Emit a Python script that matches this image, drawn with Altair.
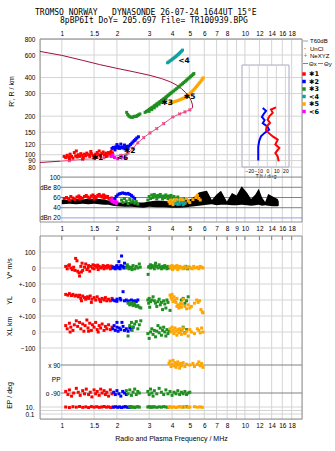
import altair as alt
import pandas as pd

# ---------------- text ----------------
TITLE_1 = "TROMSO NORWAY \u00a0\u00a0DYNASONDE 26-07-24 1644UT 15°E"
TITLE_2 = "8pBP6It DoY= 205.697 File= TR100939.BPG"

# ---------------- axes values ----------------
FREQ_TICKS = [1, 1.5, 2, 3, 4, 5, 6, 7, 8, 10, 12, 14, 16, 18]
FREQ_TICKS_MID = [1, 1.5, 2, 3, 4, 5, 6, 7, 8, 9, 10, 12, 14, 16, 18]
FREQ_GRID = [1, 1.5, 2, 3, 4, 5, 6, 7, 8, 9, 10, 12, 14, 16, 18]
R_TICKS = [80, 90, 100, 120, 150, 200, 300, 400, 600, 800]
DB_TICKS = [100, 80, 60, 40, 20]
TILT_TICKS = [-20, -10, 0, 10, 20]
TILT_R_GRID = [90, 100, 120, 150, 200, 300, 400]

# ---------------- top panel: virtual height traces (f MHz, R km) ----------------
TR1 = [(1.03,97),(1.05,95),(1.07,99),(1.09,96),(1.11,101),(1.13,97),(1.15,94),(1.17,104),(1.19,98),
       (1.21,96),(1.23,100),(1.25,97),(1.27,102),(1.29,99),(1.31,95),(1.33,101),(1.35,98),(1.37,103),
       (1.40,100),(1.42,97),(1.45,102),(1.48,99),(1.50,96),(1.53,101),(1.56,104),(1.59,100),(1.62,98),
       (1.65,102),(1.68,105),(1.71,100),(1.74,103),(1.77,99),(1.80,104),(1.83,101),(1.86,106),(1.89,103),
       (1.20,107),(1.44,106),(1.60,107),(1.10,93),(1.30,93),(1.55,96),(1.75,97)]
TR2 = [(1.88,112),(1.91,114),(1.94,113),(1.97,115),(2.00,113),(2.03,116),(2.06,112),(2.09,114),
       (2.12,113),(2.15,115),(2.18,113),(2.21,111),(2.24,114),(2.27,116),(2.30,114),(2.33,117),
       (2.37,120),(2.41,123),(2.45,126),(2.49,129),(2.53,132),(2.57,135),(2.62,138),(2.00,120),
       (2.10,121),(2.20,119),(1.95,109)]
TR6 = [(1.86,97),(1.90,100),(1.94,95),(2.02,93),(2.12,96),(2.22,94)]
TR3_LOW = [(2.26,214),(2.29,206),(2.32,201),(2.35,198),(2.39,196),(2.43,196),(2.47,198),(2.51,200),
           (2.55,199),(2.59,202),(2.63,205),(2.67,208)]
TR3 = [(2.85,214),(2.90,218),(2.95,221),(3.00,226),(3.05,229),(3.10,233),(3.15,236),(3.20,241),
       (3.25,244),(3.30,249),(3.35,252),(3.40,257),(3.45,260),(3.50,265),(3.55,268),(3.60,273),
       (3.65,276),(3.70,281),(3.75,285),(3.80,290),(3.85,294),(3.90,299),(3.95,303),(4.00,308),
       (4.08,314),(4.16,321),(4.24,328),(4.32,336),(4.40,343),(4.48,351),(4.56,358),(4.64,366),
       (4.72,374),(4.80,382),(4.88,390),(4.96,398),(5.04,406),(5.12,414),(5.20,422),(5.26,430),
       (3.00,218),(3.10,225),(3.20,232),(3.30,240),(3.40,248),(3.50,256),(3.60,264),(3.70,272)]
TR5 = [(3.88,250),(3.94,253),(4.00,256),(4.08,258),(4.16,260),(4.24,263),(4.32,265),(4.40,268),
       (4.48,271),(4.56,274),(4.64,277),(4.72,281),(4.80,285),(4.88,290),(4.96,296),(5.04,302),
       (5.12,309),(5.20,316),(5.28,324),(5.36,332),(5.44,340),(5.52,349),(5.60,358),(5.68,367),
       (5.76,377),(5.84,387),(5.92,398)]
TR4 = [(3.78,522),(3.84,530),(3.90,540),(3.96,548),(4.02,558),(4.08,566),(4.14,575),(4.20,585),
       (4.26,596),(4.32,606),(4.38,618),(4.44,630),(4.50,642),(4.56,655)]
TRACE_LABELS = [("✱1",1.53,95),("✱2",2.30,107),("<6",2.10,95),("✱3",3.68,254),("<4",4.55,540),("✱5",4.88,280)]

# model profile curves (f MHz, R km)
PROF_TOP = [(0.76,640),(1.0,596),(1.3,545),(1.61,505),(2.0,472),(2.5,442),(3.03,416),(3.5,393),
            (3.89,372),(4.2,352),(4.5,328),(4.75,305),(4.95,284),(5.08,265),(5.16,248),(5.18,236),(5.13,229)]
PROF_BOTTOM = [(0.76,87),(0.98,89)]
NEXYZ = [(0.98,89),(1.1,90),(1.3,92),(1.5,93),(1.7,95),(1.9,97),(2.1,99),(2.3,103),(2.45,112),
         (2.6,124),(2.8,136),(3.03,148),(3.3,160),(3.6,175),(4.04,197),(4.4,208),(4.7,216),(5.0,224),(5.13,229)]

# tilt inset (deg, R km)
TILT_X = [(9.6,234),(4.1,225),(6.0,212),(2.2,199),(0.4,188),(3.0,177),(-0.7,166),(-1.4,156),(1.5,148),
          (6.0,139),(11.5,131),(8.9,120),(13.3,113),(8.9,103),(11.5,97),(12.6,89)]
TILT_Y = [(-5.1,232),(-1.4,220),(-4,208),(-6,197),(-3,186),(-5,176),(0,166),(2,157),(-3,148),
          (-7,139),(-9,128),(-10,115),(-10,103),(-10,90)]

# ---------------- amplitude panel (f MHz, dB) ----------------
DB1 = [(1.03,58),(1.06,60),(1.09,57),(1.12,62),(1.15,59),(1.18,56),(1.21,61),(1.24,63),(1.27,60),(1.30,58),
       (1.33,62),(1.36,64),(1.39,61),(1.42,59),(1.45,63),(1.48,65),(1.51,62),(1.54,60),(1.57,64),(1.60,66),
       (1.63,63),(1.66,61),(1.69,65),(1.72,63),(1.75,60),(1.78,62),(1.81,58),(1.84,56),(1.87,59),(1.10,55),
       (1.25,57),(1.50,57),(1.70,58)]
DB6 = [(1.85,55),(1.88,52),(1.90,57),(1.93,50),(1.96,53),(1.98,48),(2.00,51)]
DB2 = [(1.95,58),(1.98,62),(2.02,65),(2.06,67),(2.10,68),(2.15,69),(2.20,68),(2.25,67),(2.30,68),
       (2.35,66),(2.40,64),(2.45,61),(2.50,58)]
DB3 = [(2.12,55),(2.16,50),(2.20,58),(2.25,53),(2.30,48),(2.35,56),(2.40,51),(2.45,54),(2.50,49),(2.55,52),
       (2.60,47),(2.95,55),(3.00,62),(3.05,58),(3.10,65),(3.15,60),(3.20,66),(3.25,63),(3.30,58),(3.35,64),
       (3.40,61),(3.45,66),(3.50,62),(3.55,57),(3.60,63),(3.65,60),(3.70,65),(3.75,62),(3.80,58),(3.85,63),
       (3.90,60),(3.95,64),(4.00,59),(4.10,62),(4.20,58),(4.30,61),(4.40,56),(4.60,55),(4.70,58)]
DB5 = [(3.85,52),(3.90,48),(3.95,55),(4.00,50),(4.05,46),(4.10,53),(4.15,49),(4.20,56),(4.25,51),(4.30,47),
       (4.35,54),(4.40,50),(4.45,57),(4.50,52),(4.60,55),(4.70,49),(4.80,58),(4.90,53),(5.00,50),(5.20,56),
       (5.40,60),(5.50,64),(5.60,58),(5.70,55)]
DB4 = [(4.20,48),(4.30,51),(4.40,47),(4.50,50),(4.60,46),(4.70,49)]
DB_ALL = [(1.0,47,55),(1.1,48,56),(1.2,47,57),(1.3,48,56),(1.4,47,58),(1.5,48,57),(1.6,47,57),(1.7,46,56),
          (1.8,46,54),(1.9,44,52),(2.0,43,50),(2.2,42,50),(2.4,42,52),(2.6,41,50),(2.8,40,50),(3.0,42,52),
          (3.3,41,54),(3.6,41,53),(4.0,40,52),(4.4,40,52),(4.8,41,55),(5.0,42,56),(5.33,43,62),(5.6,44,70),
          (5.9,45,72),(6.2,46,73),(6.6,47,55),(7.0,45,66),(7.4,46,73),(7.97,46,52),(8.5,45,69),(9.0,45,64),
          (9.6,46,82),(10.3,45,69),(10.8,44,57),(11.4,45,66),(11.9,46,77),(12.4,44,60),(12.9,45,51),
          (13.4,44,67),(14.2,43,62),(15.1,43,57),(15.3,44,52)]

# ---------------- lower panel (f MHz, value) ----------------
VS1 = [(1.05,10),(1.07,-5),(1.09,15),(1.12,0),(1.14,-10),(1.16,5),(1.19,60),(1.21,45),(1.22,-20),(1.24,-30),
       (1.25,-50),(1.27,10),(1.29,30),(1.30,-15),(1.33,5),(1.35,25),(1.37,-10),(1.39,0),(1.42,-20),(1.44,10),
       (1.47,0),(1.50,-5),(1.52,15),(1.55,5),(1.58,-10),(1.60,10),(1.63,0),(1.66,5),(1.70,-5),(1.73,10),
       (1.76,0),(1.80,5),(1.84,-5),(1.88,10),(1.10,20),(1.18,-15),(1.28,-25),(1.40,15),(1.48,20),(1.57,18),
       (1.68,15),(1.78,15),(1.85,12)]
VS2 = [(1.90,0),(1.93,5),(1.96,-5),(1.99,10),(2.02,0),(2.05,40),(2.07,5),(2.10,15),(2.12,75),(2.15,10),
       (2.18,0),(2.20,30),(2.22,5),(2.00,15),(2.08,-5)]
VS3 = [(2.25,0),(2.30,10),(2.33,-5),(2.37,5),(2.40,0),(2.45,15),(2.50,-5),(2.55,10),(2.60,0),(2.65,25),
       (2.68,5),(2.28,20),(2.42,-10),(2.96,-40),(2.98,5),(3.00,10),(3.05,0),(3.10,15),(3.15,5),(3.20,-5),
       (3.25,30),(3.30,10),(3.35,0),(3.40,20),(3.45,5),(3.50,-5),(3.55,10),(3.60,0),(3.65,15),(3.70,5),
       (3.75,-5),(3.80,10),(3.85,0),(3.05,20),(3.22,15),(4.65,0),(4.75,10),(4.85,-5),(4.95,5)]
VS5 = [(3.90,10),(3.95,0),(4.00,15),(4.05,-5),(4.10,5),(4.15,10),(4.20,0),(4.25,15),(4.30,-10),(4.35,5),
       (4.40,10),(4.45,0),(4.50,5),(4.60,-5),(4.70,10),(4.80,0),(4.90,5),(5.05,0),(5.15,-5),(5.25,10),
       (5.35,0),(5.50,5),(5.60,-5),(5.70,10),(5.80,5),(5.90,0),(4.02,-10)]
YL1 = [(1.05,35),(1.08,30),(1.10,40),(1.13,28),(1.15,35),(1.18,25),(1.20,30),(1.23,20),(1.25,30),(1.27,10),
       (1.30,25),(1.33,15),(1.35,5),(1.38,20),(1.40,10),(1.43,25),(1.46,5),(1.50,15),(1.53,0),(1.56,20),
       (1.60,5),(1.63,-10),(1.66,10),(1.70,0),(1.73,15),(1.76,-5),(1.80,5),(1.84,-5),(1.88,10),(1.28,-5),
       (1.45,-15),(1.62,-5)]
YL2 = [(1.90,0),(1.95,-5),(2.00,5),(2.16,52),(2.10,0),(2.20,-5),(2.25,0),(2.30,-10),(2.35,-5),(2.40,0),
       (2.45,-10),(2.50,-5),(2.55,-10),(2.60,0),(2.00,-8),(2.08,10)]
YL3 = [(2.30,-20),(2.35,-30),(2.40,-25),(2.45,-35),(2.50,-30),(2.55,-40),(2.60,-35),(2.65,-45),(2.70,-50),
       (2.38,-15),(2.48,-20),(2.95,0),(2.98,-20),(3.00,10),(3.05,-10),(3.10,0),(3.15,20),(3.20,-5),(3.25,-20),
       (3.30,-40),(3.35,-10),(3.40,5),(3.45,-30),(3.50,-15),(3.55,-60),(3.60,-5),(3.65,-25),(3.70,-50),
       (3.75,0),(3.80,-15),(3.90,-65),(4.50,0),(4.60,10),(4.70,-20),(4.80,-5),(4.90,20),(3.02,-45)]
YL5 = [(3.90,30),(3.95,15),(4.00,5),(4.05,-10),(4.10,20),(4.15,0),(4.20,-15),(4.25,10),(4.30,-30),(4.35,-50),
       (4.40,-35),(4.45,-20),(4.50,-45),(4.55,-25),(4.60,5),(4.70,-40),(4.80,-55),(4.90,-30),(5.00,-50),
       (5.10,-40),(5.30,-20),(5.45,0),(5.55,-15),(5.65,-5),(5.75,-60),(5.85,-75),(5.90,-80),(4.00,35),(4.25,-40)]
XL1 = [(1.05,40),(1.07,20),(1.10,55),(1.12,30),(1.15,10),(1.17,45),(1.20,70),(1.22,35),(1.25,60),(1.27,20),
       (1.30,50),(1.32,5),(1.34,40),(1.37,75),(1.39,25),(1.42,55),(1.45,10),(1.47,45),(1.50,30),(1.53,60),
       (1.56,15),(1.60,40),(1.63,25),(1.66,50),(1.70,10),(1.73,35),(1.76,20),(1.80,45),(1.84,15),(1.88,30),
       (1.11,0),(1.40,5),(1.58,0)]
XL2 = [(1.90,20),(1.93,40),(1.96,10),(2.00,30),(2.03,5),(2.06,25),(2.10,15),(2.13,60),(2.16,35),(2.20,10),
       (2.25,20),(2.30,5),(2.35,25),(2.40,15),(2.45,30),(2.00,60)]
XL3 = [(2.30,-25),(2.35,40),(2.40,60),(2.45,30),(2.50,50),(2.55,65),(2.60,20),(2.65,45),(2.70,70),(2.42,10),
       (2.95,-10),(3.00,-40),(3.05,0),(3.10,20),(3.15,-15),(3.20,10),(3.25,-30),(3.30,5),(3.35,40),(3.40,-5),
       (3.45,25),(3.50,-20),(3.55,10),(3.60,30),(3.65,0),(3.70,-25),(3.75,15),(3.80,-10),(3.85,5),(4.50,10),
       (4.60,30),(4.70,-5),(4.80,15)]
XL5 = [(3.90,20),(3.95,0),(4.00,30),(4.05,10),(4.10,-10),(4.15,25),(4.20,5),(4.25,-20),(4.30,15),(4.35,-5),
       (4.40,20),(4.45,0),(4.50,-15),(4.55,10),(4.60,25),(4.70,-10),(4.80,5),(4.90,-25),(5.00,15),(5.10,0),
       (5.30,-10),(5.50,20),(5.60,10),(5.70,-5),(5.80,25),(5.90,0)]
PP5 = [(3.85,100),(3.90,115),(3.95,80),(4.00,95),(4.05,120),(4.10,85),(4.15,105),(4.20,75),(4.25,95),
       (4.30,110),(4.35,90),(4.40,70),(4.45,100),(4.50,85),(4.60,105),(4.70,80),(4.80,95),(5.00,90),
       (5.20,100),(5.30,80),(5.50,95),(5.60,110),(5.70,85),(5.80,100),(5.90,75)]
PP1 = [(1.05,-80),(1.08,-100),(1.10,-70),(1.13,-110),(1.16,-90),(1.20,-60),(1.23,-85),(1.26,-105),(1.30,-75),
       (1.33,-95),(1.36,-65),(1.40,-100),(1.43,-85),(1.46,-115),(1.50,-70),(1.53,-95),(1.56,-80),(1.60,-105),
       (1.63,-65),(1.66,-90),(1.70,-75),(1.73,-100),(1.76,-85),(1.80,-110),(1.84,-70),(1.88,-95)]
PP2 = [(1.92,-85),(1.96,-100),(2.00,-75),(2.05,-95),(2.10,-110),(2.15,-80),(2.20,-90),(2.25,-100)]
PP3 = [(2.25,-75),(2.30,-95),(2.35,-70),(2.40,-105),(2.45,-85),(2.50,-65),(2.55,-100),(2.60,-80),(2.65,-90),
       (2.95,-80),(3.00,-100),(3.05,-65),(3.10,-90),(3.15,-110),(3.20,-75),(3.30,-95),(3.40,-60),(3.50,-85),
       (3.60,-100),(3.70,-70),(3.80,-95),(3.90,-80),(4.00,-105),(4.10,-85),(4.20,-95),(4.30,-75),(4.40,-100),
       (4.50,-85),(4.60,-95),(4.70,-80),(4.80,-100),(4.90,-90),(5.00,-85)]
EP1 = [(1.05,10),(1.10,7),(1.15,12),(1.20,9),(1.25,14),(1.30,8),(1.35,11),(1.40,7),(1.45,13),(1.50,9),
       (1.55,12),(1.60,8),(1.65,10),(1.70,14),(1.75,9),(1.80,11),(1.85,7),(1.90,10)]
EP2 = [(1.92,9),(1.97,12),(2.02,8),(2.07,11),(2.12,7),(2.17,10),(2.22,13),(2.27,9),(2.32,8),(2.37,11)]
EP3 = [(2.35,12),(2.40,8),(2.45,11),(2.50,7),(2.55,10),(2.60,13),(2.65,9),(2.95,10),(3.00,13),(3.05,8),
       (3.10,11),(3.15,9),(3.20,12),(3.30,8),(3.40,11),(3.50,9),(3.60,13),(3.70,10),(3.80,8),(4.60,10),(4.80,12)]
EP5 = [(3.85,9),(3.90,12),(4.00,8),(4.10,11),(4.20,7),(4.30,10),(4.40,13),(4.50,9),(4.70,11),(4.90,8),
       (5.00,10),(5.30,12),(5.50,9),(5.70,11),(5.85,8)]

# ---------------- styling ----------------
RED, BLUE, GREEN, CYAN, ORANGE, MAGENTA = "#ff0000", "#0000ff", "#1f8f1f", "#10a0a0", "#ffa500", "#ff00ff"
DARKRED, PINK = "#a01040", "#e8508a"
GRID, FRAME, DARKGRID = "#d4d4d4", "#909090", "#808080"
FONT = "Liberation Sans"
FS = 6.5

FSCALE = alt.Scale(type="log", domain=[0.76, 20.5], nice=False)
S_R = alt.Scale(type="log", domain=[72, 800], range=[134, 0], nice=False)
S_DB = alt.Scale(domain=[12, 108], range=[183, 134], nice=False, zero=False)
S_TOPBOX = alt.Scale(domain=[0, 1], range=[183, 0], nice=False, zero=False)
S_LOWBOX = alt.Scale(domain=[0, 1], range=[380, 197], nice=False, zero=False)
S_VS = alt.Scale(domain=[-100, 100], range=[245, 213], nice=False, zero=False)
S_YL = alt.Scale(domain=[-100, 100], range=[277, 245], nice=False, zero=False)
S_XL = alt.Scale(domain=[-100, 100], range=[309, 277], nice=False, zero=False)
S_PP = alt.Scale(domain=[-90, 90], range=[354, 326], nice=False, zero=False)
S_EP = alt.Scale(type="log", domain=[0.1, 10], range=[375, 368], nice=False)
S_TILT = alt.Scale(domain=[-28, 24], range=[202, 249], nice=False, zero=False)


def df(rows, cols=("f", "v")):
    return pd.DataFrame(rows, columns=list(cols))


def fx(axis=None):
    return alt.X("f:Q", scale=FSCALE, axis=axis)


def AX(**kw):
    base = dict(labelFont=FONT, labelFontSize=FS, labelColor="black", domain=False, ticks=False,
                tickSize=0, grid=False, labelOverlap=False, labelFlush=False, title=None,
                titleFont=FONT, titleFontSize=7, titleFontWeight="normal", titleColor="black")
    base.update(kw)
    return alt.Axis(**base)


def dots(rows, scale, color, size=9):
    return alt.Chart(df(rows)).mark_square(size=size, color=color, opacity=1).encode(
        x=fx(), y=alt.Y("v:Q", scale=scale, axis=None))


def hlines(values, scale, color, axis=None, x0=0.76, width=1):
    return alt.Chart(pd.DataFrame({"v": values})).mark_rule(color=color, strokeWidth=width).encode(
        x=alt.XDatum(x0, scale=FSCALE, axis=None), x2=alt.X2Datum(20.5),
        y=alt.Y("v:Q", scale=scale, axis=axis))


def vgrid(boxscale, axis=None):
    return alt.Chart(pd.DataFrame({"f": FREQ_GRID})).mark_rule(color=GRID, strokeWidth=1).encode(
        x=fx(axis), y=alt.YDatum(0, scale=boxscale, axis=None), y2=alt.Y2Datum(1))


layers = []

# ---- grids & frames ----
layers.append(vgrid(S_TOPBOX, AX(orient="top", values=FREQ_TICKS, format="~g", labelPadding=3)))
layers.append(vgrid(S_LOWBOX, AX(orient="bottom", values=FREQ_TICKS, format="~g", labelPadding=3,
                                 title="Radio and Plasma Frequency / MHz", titlePadding=6)))
layers.append(hlines(R_TICKS, S_R, GRID, AX(orient="left", values=R_TICKS, format="d", labelPadding=5,
                                            title="R', R / km", titleX=-26, titleY=52, titleAngle=270)))
layers.append(hlines([100, 80, 60, 40], S_DB, DARKGRID, AX(orient="left", values=DB_TICKS, offset=-22, labelPadding=2,
                     labelExpr="datum.value == 80 ? 'dBe 80' : datum.value == 20 ? 'dBn 20' : datum.label"), x0=0.98))
layers.append(hlines([20], S_DB, "#9a9ae6", x0=0.98))
layers.append(hlines([100, 0], S_VS, GRID, AX(orient="left", values=[100, 0], labelPadding=5,
                                             title="V* m/s", titleX=-28, titleY=229, titleAngle=270)))
layers.append(hlines([100, 0], S_YL, GRID, AX(orient="left", values=[100, 0], labelPadding=5,
                     labelExpr="datum.value == 100 ? '+-100' : datum.label",
                     title="YL", titleX=-28, titleY=261, titleAngle=270)))
layers.append(hlines([100, 0, -100], S_XL, GRID, AX(orient="left", values=[100, 0, -100], labelPadding=5,
                     labelExpr="datum.value == 100 ? '+-100' : datum.label",
                     title="XL  km", titleX=-28, titleY=287, titleAngle=270)))
layers.append(hlines([90, -90], S_PP, DARKGRID, AX(orient="left", values=[90, 0, -90], offset=-22, labelPadding=2,
                     labelExpr="datum.value == 90 ? 'x 90' : datum.value == 0 ? 'PP' : 'o -90'"), x0=0.99))
layers.append(hlines([10, 1, 0.1], S_EP, GRID, AX(orient="left", values=[10, 0.1], labelPadding=6,
                     labelExpr="datum.value == 10 ? '10.' : '0.1'",
                     title="EP / deg", titleX=-28, titleY=356, titleAngle=270)))
# ticks at top of lower panel
layers.append(alt.Chart(pd.DataFrame({"f": FREQ_GRID})).mark_rule(color=DARKGRID).encode(
    x=fx(), y=alt.YDatum(1, scale=S_LOWBOX, axis=None), y2=alt.Y2Datum(0.978)))
# frames
for box in (S_TOPBOX, S_LOWBOX):
    layers.append(alt.Chart(pd.DataFrame({"a": [0]})).mark_rect(fill=None, stroke=FRAME, strokeWidth=1).encode(
        x=alt.XDatum(0.76, scale=FSCALE, axis=None), x2=alt.X2Datum(20.5),
        y=alt.YDatum(0, scale=box, axis=None), y2=alt.Y2Datum(1)))

# ---- top panel curves ----
def curve(rows, color):
    d = df(rows, ("f", "R"))
    d["i"] = range(len(d))
    return alt.Chart(d).mark_line(color=color, strokeWidth=1).encode(
        x=fx(), y=alt.Y("R:Q", scale=S_R, axis=None), order="i:Q")

layers.append(curve(PROF_TOP, DARKRED))
layers.append(curve(PROF_BOTTOM, DARKRED))
layers.append(curve(NEXYZ, PINK))
layers.append(alt.Chart(df(NEXYZ[1:-1], ("f", "R"))).mark_point(shape="cross", angle=45, size=14, filled=True,
                                                               color=PINK, opacity=1).encode(
    x=fx(), y=alt.Y("R:Q", scale=S_R, axis=None)))

for rows, color in ((TR1, RED), (TR2, BLUE), (TR6, MAGENTA), (TR3_LOW, GREEN), (TR3, GREEN),
                    (TR5, ORANGE), (TR4, CYAN)):
    layers.append(dots(rows, S_R, color, size=9))

layers.append(alt.Chart(pd.DataFrame(TRACE_LABELS, columns=["t", "f", "R"])).mark_text(
    font="DejaVu Sans", fontSize=7.5, fontWeight="bold", color="black", align="left", dx=-4).encode(
    x=fx(), y=alt.Y("R:Q", scale=S_R, axis=None), text="t:N"))

# ---- tilt inset ----
layers.append(alt.Chart(pd.DataFrame({"a": [0]})).mark_rect(fill="white", stroke="#a8a8c0", strokeWidth=1).encode(
    x=alt.XDatum(-28, scale=S_TILT, axis=None), x2=alt.X2Datum(24),
    y=alt.YDatum(501, scale=S_R, axis=None), y2=alt.Y2Datum(80.2)))
layers.append(alt.Chart(pd.DataFrame({"t": TILT_TICKS})).mark_rule(color=GRID).encode(
    x=alt.X("t:Q", scale=S_TILT, axis=AX(orient="bottom", values=TILT_TICKS, offset=-252, labelPadding=1,
                                           labelFontSize=5, title="Tilt / deg", titleFontSize=5.5, titlePadding=0)),
    y=alt.YDatum(501, scale=S_R, axis=None), y2=alt.Y2Datum(80.2)))
layers.append(alt.Chart(pd.DataFrame({"R": TILT_R_GRID})).mark_rule(color=GRID).encode(
    x=alt.XDatum(-28, scale=S_TILT, axis=None), x2=alt.X2Datum(24),
    y=alt.Y("R:Q", scale=S_R, axis=None)))
for rows, color in ((TILT_Y, BLUE), (TILT_X, RED)):
    d = df(rows, ("t", "R"))
    d["i"] = range(len(d))
    layers.append(alt.Chart(d).mark_line(color=color, strokeWidth=2).encode(
        x=alt.X("t:Q", scale=S_TILT, axis=None), y=alt.Y("R:Q", scale=S_R, axis=None), order="i:Q"))

# ---- amplitude panel ----
dball = pd.DataFrame(DB_ALL, columns=["f", "lo", "hi"])
layers.append(alt.Chart(dball).mark_area(color="black", opacity=1).encode(
    x=fx(AX(orient="bottom", values=FREQ_TICKS_MID, format="~g", offset=-197, labelPadding=3)),
    y=alt.Y("lo:Q", scale=S_DB, axis=None), y2="hi:Q"))
for rows, color in ((DB1, RED), (DB6, MAGENTA), (DB2, BLUE), (DB3, GREEN), (DB5, ORANGE), (DB4, CYAN)):
    layers.append(dots(rows, S_DB, color))

# ---- lower panel ----
for rows, color in ((VS1, RED), (VS2, BLUE), (VS3, GREEN), (VS5, ORANGE)):
    layers.append(dots(rows, S_VS, color))
for rows, color in ((YL1, RED), (YL2, BLUE), (YL3, GREEN), (YL5, ORANGE)):
    layers.append(dots(rows, S_YL, color))
for rows, color in ((XL1, RED), (XL2, BLUE), (XL3, GREEN), (XL5, ORANGE)):
    layers.append(dots(rows, S_XL, color))
for rows, color in ((PP5, ORANGE), (PP1, RED), (PP2, BLUE), (PP3, GREEN)):
    layers.append(dots(rows, S_PP, color))
for rows, color in ((EP1, RED), (EP2, BLUE), (EP3, GREEN), (EP5, ORANGE)):
    layers.append(dots(rows, S_EP, color))

# ---- titles & legend (layout text) ----
def txt(s, x, y, **kw):
    base = dict(font=FONT, fontSize=7, color="black", align="left", baseline="middle")
    base.update(kw)
    return alt.Chart(pd.DataFrame({"a": [0]})).mark_text(text=s, **base).encode(
        x=alt.value(x), y=alt.value(y))

layers.append(txt(TITLE_1, -5, -24.5, font="DejaVu Sans Mono", fontSize=8, baseline="alphabetic"))
layers.append(txt(TITLE_2, 20, -16, font="DejaVu Sans Mono", fontSize=8, baseline="alphabetic"))

LEG_TOP = [("T60dB", 2), ("UnCl", 9.5), ("NeXYZ", 17)]
for s, y in LEG_TOP:
    layers.append(txt(s, 270, y, fontSize=6))
layers.append(alt.Chart(pd.DataFrame({"a": [0]})).mark_rule(color="#a0a0a0").encode(
    x=alt.value(263), x2=alt.value(268), y=alt.value(2)))
layers.append(txt("·", 265, 9.5, fontSize=7, align="center"))
layers.append(txt("+", 265.5, 17, fontSize=7, align="center", color=PINK))
layers.append(alt.Chart(pd.DataFrame({"a": [0]})).mark_rule(color=PINK).encode(
    x=alt.value(263), x2=alt.value(268), y=alt.value(24.5)))
layers.append(txt("Θx", 269, 24.5, fontSize=6))
layers.append(alt.Chart(pd.DataFrame({"a": [0]})).mark_rule(color="#7070ff").encode(
    x=alt.value(278), x2=alt.value(283), y=alt.value(24.5)))
layers.append(txt("Θy", 284, 24.5, fontSize=6))

LEG_TRACES = [("✱1", RED), ("✱2", BLUE), ("✱3", GREEN), ("<4", CYAN), ("✱5", ORANGE), ("<6", MAGENTA)]
for k, (s, c) in enumerate(LEG_TRACES):
    yy = 35 + k * 7.5
    layers.append(alt.Chart(pd.DataFrame({"a": [0]})).mark_square(size=12, color=c, opacity=1).encode(
        x=alt.value(264), y=alt.value(yy)))
    layers.append(txt(s, 269, yy, font="DejaVu Sans", fontSize=6.5, fontWeight="bold"))

chart = alt.layer(*layers).resolve_scale(x="independent", y="independent").properties(
    width=262, height=380,
    autosize=alt.AutoSizeParams(type="none"),
    padding={"left": 40, "top": 39, "right": 33, "bottom": 32},
).configure_view(stroke=None).configure(background="white")

chart.save("out.html", embed_options={"renderer": "svg", "actions": False})
